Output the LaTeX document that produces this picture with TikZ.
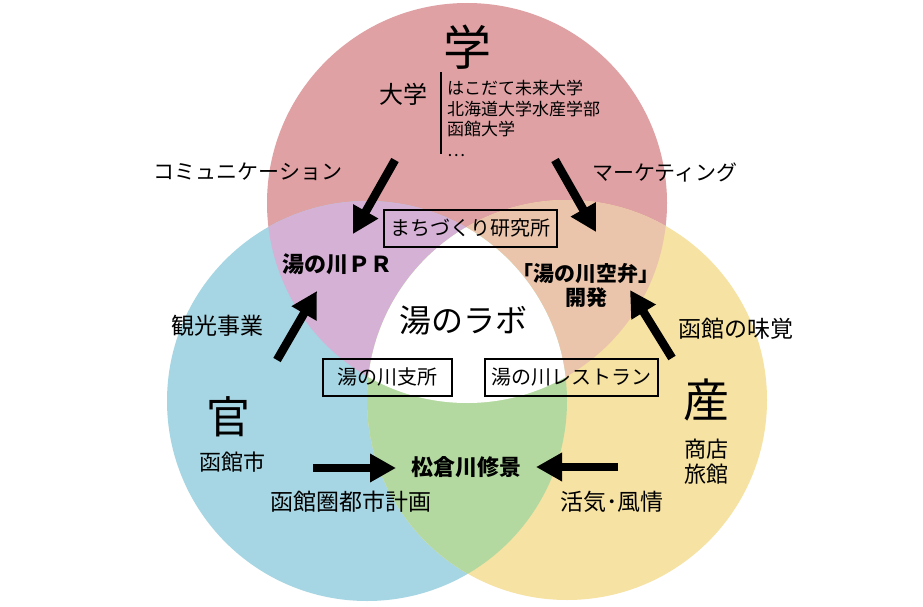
\documentclass[tikz,border=0pt]{standalone}
\usepackage{fontspec}
\newfontfamily\jp{Noto Sans CJK JP}
\usetikzlibrary{arrows.meta}
\definecolor{cRed}{RGB}{223,161,163}
\definecolor{cBlue}{RGB}{166,214,227}
\definecolor{cYellow}{RGB}{246,226,162}
\definecolor{cPurple}{RGB}{213,177,214}
\definecolor{cPeach}{RGB}{235,197,171}
\definecolor{cGreen}{RGB}{180,217,160}
\begin{document}
\begin{tikzpicture}[x=1pt,y=-1pt,
  txt/.style={inner sep=0pt, font=\jp\fontsize{#1}{#1}\selectfont},
  btxt/.style={inner sep=0pt, font=\jp\bfseries\fontsize{#1}{#1}\selectfont},
  boxlabel/.style={draw=black, line width=2pt, inner sep=0pt, minimum height=37pt, font=\jp\fontsize{20}{20}\selectfont},
  bigarrow/.style={line width=8.5pt, -{Triangle[length=26pt,width=27pt]}},
  rule/.style={line width=2.5pt}
]
\useasboundingbox (0,0) rectangle (923,607);
\fill[white] (0,0) rectangle (923,607);
\coordinate (cT) at (467,203);
\coordinate (cL) at (367,401);
\coordinate (cR) at (567,400);
% circles
\fill[cRed] (cT) circle[radius=200pt];
\fill[cBlue] (cL) circle[radius=200pt];
\fill[cYellow] (cR) circle[radius=200pt];
\begin{scope}
  \clip (cT) circle[radius=200pt];
  \fill[cPurple] (cL) circle[radius=200pt];
  \fill[cPeach] (cR) circle[radius=200pt];
\end{scope}
\begin{scope}
  \clip (cL) circle[radius=200pt];
  \fill[cGreen] (cR) circle[radius=200pt];
\end{scope}
\begin{scope}
  \clip (cT) circle[radius=200pt];
  \clip (cL) circle[radius=200pt];
  \fill[white] (cR) circle[radius=200pt];
\end{scope}
% top: 学
\node[txt=48] (gaku) at (467,47) {学};
\node[txt=24] (daigaku) at (403,94) {大学};
\coordinate (ruleTop) at (441,72);
\coordinate (ruleBot) at (441,154);
\draw[rule] (ruleTop) -- (ruleBot);
\node[anchor=north west, inner sep=0pt, align=left, font=\jp\fontsize{17}{20.5}\selectfont] (unis) at (447,80)
  {はこだて未来大学\\北海道大学水産学部\\函館大学\\…};
% side labels
\node[txt=21] (comm) at (248,172) {コミュニケーション};
\node[txt=21] (mkt) at (665,172) {マーケティング};
\node[txt=23] (kanko) at (217,326) {観光事業};
\node[txt=23] (mikaku) at (736,329) {函館の味覚};
\node[txt=23] (toshi) at (351,502) {函館圏都市計画};
\node[txt=23] (kakki) at (612,502) {活気･風情};
% sector heads
\node[txt=44] (kan) at (228,417) {官};
\node[txt=22] (hakodateshi) at (232,462) {函館市};
\node[txt=46] (san) at (706,400) {産};
\node[txt=22, align=center, font=\jp\fontsize{22}{25}\selectfont] (shoten) at (706,462) {商店\\旅館};
% overlap labels
\node[btxt=22] (pr) at (337,264) {湯の川ＰＲ};
\node[btxt=21, align=center, font=\jp\bfseries\fontsize{21}{24}\selectfont] (soraben) at (586,285) {「湯の川空弁」\\開発};
\node[btxt=22] (matsukura) at (466,467) {松倉川修景};
\node[txt=32] (labo) at (463,320) {湯のラボ};
% boxes
\node[boxlabel, minimum width=173pt] (machi) at (470,228) {まちづくり研究所};
\node[boxlabel, minimum width=129pt] (shisho) at (387.5,377) {湯の川支所};
\node[boxlabel, minimum width=173pt] (resto) at (571.5,377) {湯の川レストラン};
% arrows
\coordinate (a1s) at (395,160); \coordinate (a1e) at (353,234);
\coordinate (a2s) at (555,160); \coordinate (a2e) at (596,232);
\coordinate (a3s) at (277,360); \coordinate (a3e) at (317,291);
\coordinate (a4s) at (672,358); \coordinate (a4e) at (630,290);
\coordinate (a5s) at (313,468); \coordinate (a5e) at (396,468);
\coordinate (a6s) at (618,467); \coordinate (a6e) at (536,467);
\draw[bigarrow] (a1s) -- (a1e);
\draw[bigarrow] (a2s) -- (a2e);
\draw[bigarrow] (a3s) -- (a3e);
\draw[bigarrow] (a4s) -- (a4e);
\draw[bigarrow] (a5s) -- (a5e);
\draw[bigarrow] (a6s) -- (a6e);
\end{tikzpicture}
\end{document}
